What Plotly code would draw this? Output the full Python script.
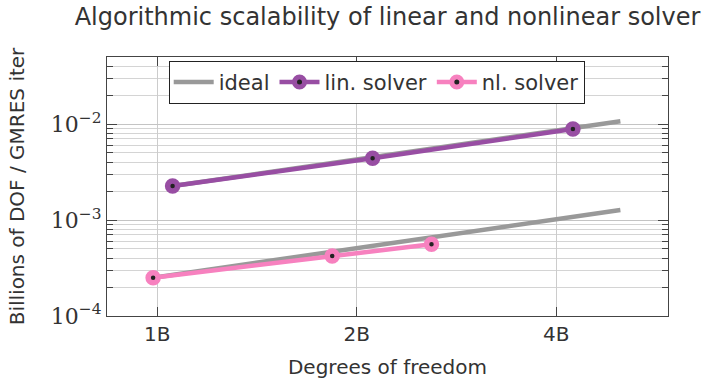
import math
import plotly.graph_objects as go

# Problem size (degrees of freedom) and throughput (billions of DOF per GMRES iteration)
lin_dof = [1.055e9, 2.114e9, 4.24e9]
lin_rate = [2.26e-3, 4.40e-3, 8.87e-3]

nl_dof = [0.986e9, 1.837e9, 2.594e9]
nl_rate = [2.51e-4, 4.22e-4, 5.59e-4]

# Ideal (linear) scaling lines start at each solver's first point and run to 5B DOF
ideal_end_dof = 5.0e9

x_tickvals = [1e9, 2e9, 4e9]
x_ticktext = ["1B", "2B", "4B"]
y_tickvals = [1e-4, 1e-3, 1e-2]
y_ticktext = ["10<sup>−4</sup>", "10<sup>−3</sup>", "10<sup>−2</sup>"]
y_decades = [1e-4, 1e-3, 1e-2]
y_minor_vals = [m * d for d in y_decades for m in range(2, 10)]

GRAY = "#999999"
PURPLE = "#984ea3"
PINK = "#f781bf"
SANS = "DejaVu Sans"
SERIF = "DejaVu Serif"
TEXT = "#333333"


def ideal_line(dof0, rate0):
    return [dof0, ideal_end_dof], [rate0, rate0 * ideal_end_dof / dof0]


fig = go.Figure()

ix, iy = ideal_line(lin_dof[0], lin_rate[0])
fig.add_trace(go.Scatter(x=ix, y=iy, mode="lines", name="ideal", legendgroup="ideal",
                         line=dict(color=GRAY, width=4.5)))
ix, iy = ideal_line(nl_dof[0], nl_rate[0])
fig.add_trace(go.Scatter(x=ix, y=iy, mode="lines", name="ideal", legendgroup="ideal",
                         showlegend=False, line=dict(color=GRAY, width=4.5)))

for name, xs, ys, col in [("lin. solver", lin_dof, lin_rate, PURPLE),
                          ("nl. solver", nl_dof, nl_rate, PINK)]:
    fig.add_trace(go.Scatter(
        x=xs, y=ys, mode="lines+markers", name=name,
        line=dict(color=col, width=4.5),
        marker=dict(symbol="circle", size=10, color="#222222",
                    line=dict(color=col, width=5.5)),
    ))

axis_common = dict(showline=True, linecolor="#444444", linewidth=1.3, mirror="ticks",
                   ticks="inside", tickcolor="#444444", zeroline=False, automargin=False)

fig.update_xaxes(type="log", range=[math.log10(0.84e9), math.log10(5.9e9)],
                 tickvals=x_tickvals, ticktext=x_ticktext,
                 showgrid=True, gridcolor="#cccccc", gridwidth=1, ticklen=9,
                 tickfont=dict(family=SANS, size=20, color=TEXT),
                 title=dict(text="Degrees of freedom", font=dict(family=SANS, size=20, color=TEXT),
                            standoff=14),
                 **axis_common)

fig.update_yaxes(type="log", range=[-4, -1.301],
                 tickvals=y_tickvals, ticktext=y_ticktext,
                 showgrid=True, gridcolor="#c4c4c4", gridwidth=1, ticklen=10,
                 minor=dict(tickvals=y_minor_vals, ticks="inside", ticklen=6, tickcolor="#444444",
                            showgrid=True, gridcolor="#d4d4d4", gridwidth=1),
                 tickfont=dict(family=SERIF, size=22, color=TEXT),
                 title=dict(text="Billions of DOF / GMRES iter",
                            font=dict(family=SANS, size=20, color=TEXT), standoff=20),
                 **axis_common)

fig.update_layout(
    width=702, height=379,
    margin=dict(l=107, r=34, t=57, b=63),
    paper_bgcolor="white", plot_bgcolor="white",
    title=dict(text="Algorithmic scalability of linear and nonlinear solver",
               font=dict(family=SANS, size=24, color=TEXT),
               x=0.552, xanchor="center", y=0.955, yanchor="middle"),
    legend=dict(orientation="h", x=0.11, y=0.985, xanchor="left", yanchor="top",
                bgcolor="white", bordercolor="#222222", borderwidth=1,
                font=dict(family=SANS, size=21, color=TEXT),
                itemwidth=40, tracegroupgap=0),
    showlegend=True,
)

fig.write_html("out.html")
